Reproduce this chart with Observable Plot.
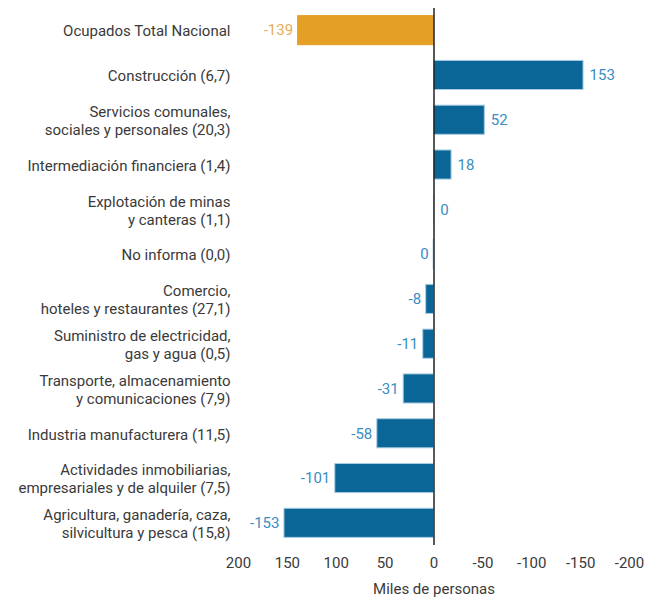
<!DOCTYPE html>
<html>
<head>
<meta charset="utf-8">
<script src="https://cdn.jsdelivr.net/npm/d3@7"></script>
<script src="https://cdn.jsdelivr.net/npm/@observablehq/plot@0.6"></script>
<style>
  html, body { margin: 0; padding: 0; background: #fff; }
  svg { display: block; }
</style>
</head>
<body>
<div id="chart"></div>
<script>
const categories = [
  "Ocupados Total Nacional",
  "Construcción (6,7)",
  "Servicios comunales,\nsociales y personales (20,3)",
  "Intermediación financiera (1,4)",
  "Explotación de minas\ny canteras (1,1)",
  "No informa (0,0)",
  "Comercio,\nhoteles y restaurantes (27,1)",
  "Suministro de electricidad,\ngas y agua (0,5)",
  "Transporte, almacenamiento\ny comunicaciones (7,9)",
  "Industria manufacturera (11,5)",
  "Actividades inmobiliarias,\nempresariales y de alquiler (7,5)",
  "Agricultura, ganadería, caza,\nsilvicultura y pesca (15,8)"
];
const values = [-139, 153, 52, 18, 0.2, -0.4, -8, -11, -31, -58, -101, -153];
const isTotal = [true, false, false, false, false, false, false, false, false, false, false, false];
const xTicks = [-200, -150, -100, -50, 0, 50, 100, 150, 200];

const data = categories.map((c, i) => ({cat: c, value: values[i], total: isTotal[i]}));
const fmt = v => String(Math.round(v) === 0 ? 0 : Math.round(v));

const chart = Plot.plot({
  width: 647,
  height: 601,
  marginTop: 8,
  marginBottom: 56,
  marginLeft: 238,
  marginRight: 18,
  style: {fontFamily: "Roboto, 'Liberation Sans', sans-serif", fontSize: "15px", color: "#3a3a3a"},
  x: {domain: [-200, 200]},
  y: {domain: categories, paddingInner: 0.35, paddingOuter: 0.17, round: false},
  marks: [
    Plot.barX(data, {
      x: "value", y: "cat",
      fill: d => d.total ? "#e3a024" : "#0b6698",
      stroke: d => d.total ? "#e3a024" : "#a9cde4",
      strokeWidth: 1
    }),
    Plot.ruleX([0], {stroke: "#222", strokeWidth: 1.5}),
    Plot.text(data.filter(d => d.value >= 0), {
      x: "value", y: "cat", text: d => fmt(d.value),
      textAnchor: "start", dx: 6, fontSize: 15,
      fill: d => d.total ? "#e8ad55" : "#3a8dc2"
    }),
    Plot.text(data.filter(d => d.value < 0), {
      x: "value", y: "cat", text: d => fmt(d.value),
      textAnchor: "end", dx: -5, fontSize: 15,
      fill: d => d.total ? "#e8ad55" : "#3a8dc2"
    }),
    Plot.axisY({tickSize: 0, tickPadding: 8, label: null, fontSize: 15, lineHeight: 1.2, fill: "#3a3a3a"}),
    Plot.axisX({ticks: xTicks, tickFormat: d => d === 0 ? "0" : String(-d),
      tickSize: 0, tickPadding: 12, fontSize: 15, fill: "#3a3a3a",
      label: "Miles de personas", labelAnchor: "center", labelArrow: "none", labelOffset: 48})
  ]
});
document.getElementById("chart").appendChild(chart);
</script>
</body>
</html>
